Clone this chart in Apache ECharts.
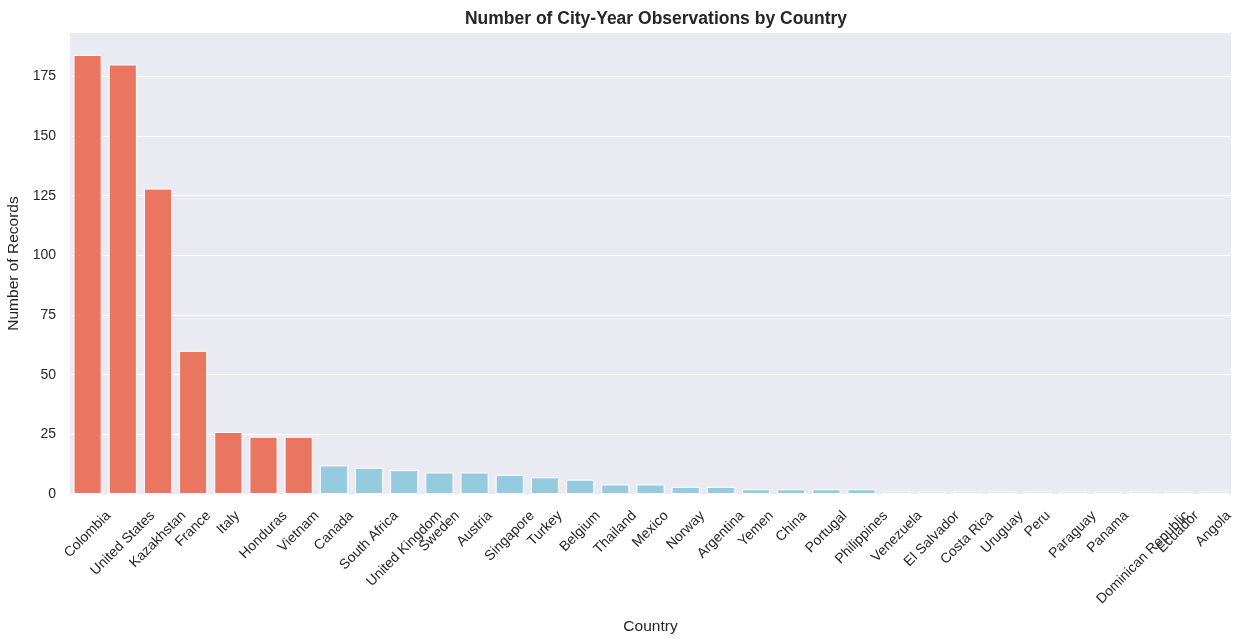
<!DOCTYPE html>
<html>
<head>
<meta charset="utf-8">
<script src="https://cdn.jsdelivr.net/npm/echarts@6/dist/echarts.min.js"></script>
<style>html,body{margin:0;padding:0;background:#fff}#c{width:1246px;height:644px}</style>
</head>
<body>
<div id="c"></div>
<script>
const categories = ['Colombia','United States','Kazakhstan','France','Italy','Honduras','Vietnam','Canada','South Africa','United Kingdom','Sweden','Austria','Singapore','Turkey','Belgium','Thailand','Mexico','Norway','Argentina','Yemen','China','Portugal','Philippines','Venezuela','El Salvador','Costa Rica','Uruguay','Peru','Paraguay','Panama','Dominican Republic','Ecuador','Angola'];
const values = [184,180,128,60,26,24,24,12,11,10,9,9,8,7,6,4,4,3,3,2,2,2,2,1,1,1,1,1,1,1,1,1,1];
const highlighted = [true,true,true,true,true,true,true,false,false,false,false,false,false,false,false,false,false,false,false,false,false,false,false,false,false,false,false,false,false,false,false,false,false];
const yTicks = [0,25,50,75,100,125,150,175];

const FONT = "'Liberation Sans', Arial, sans-serif";
const TICK_SIZE = 14;
const ctx = document.createElement('canvas').getContext('2d');
ctx.font = TICK_SIZE + "px 'Liberation Sans'";
const lineH = TICK_SIZE * 1.12;
const rich = {};
categories.forEach((c, i) => {
  const w = ctx.measureText(c).width;
  const t = 0.5 * (w + lineH);
  rich['l' + i] = { padding: [t, t, 0, 0], fontFamily: FONT, fontSize: TICK_SIZE, color: '#262626', lineHeight: lineH };
});

const chart = echarts.init(document.getElementById('c'), null, { renderer: 'canvas' });
chart.setOption({
  backgroundColor: '#ffffff',
  animation: false,
  textStyle: { fontFamily: FONT },
  title: {
    text: 'Number of City-Year Observations by Country',
    left: 651, top: 5, textAlign: 'center',
    textStyle: { fontFamily: FONT, fontWeight: 'bold', fontSize: 17.5, color: '#262626' }
  },
  grid: { left: 70, right: 15, top: 33, bottom: 150, containLabel: false, outerBoundsMode: 'none',
          show: true, backgroundColor: '#EAEAF2', borderWidth: 0 },
  xAxis: {
    type: 'category',
    data: categories,
    name: 'Country', nameLocation: 'middle', nameGap: 125,
    nameTextStyle: { fontFamily: FONT, fontSize: 15.5, color: '#262626' },
    axisLine: { show: false }, axisTick: { show: false },
    axisLabel: { interval: 0, rotate: 45, align: 'center', verticalAlign: 'middle', margin: 14,
                 fontFamily: FONT, fontSize: TICK_SIZE, color: '#262626', hideOverlap: false,
                 formatter: (v, i) => '{l' + categories.indexOf(v) + '|' + v + '}', rich: rich },
    splitLine: { show: false }
  },
  yAxis: {
    type: 'value', min: 0, max: 193.2, interval: 25,
    name: 'Number of Records', nameLocation: 'middle', nameGap: 47,
    nameTextStyle: { fontFamily: FONT, fontSize: 15.5, color: '#262626' },
    axisLine: { show: false }, axisTick: { show: false },
    axisLabel: { margin: 14, fontFamily: FONT, fontSize: TICK_SIZE, color: '#262626', showMaxLabel: false,
                 formatter: v => yTicks.indexOf(v) >= 0 ? String(v) : '' },
    splitLine: { show: true, showMaxLine: false, lineStyle: { color: '#ffffff', width: 1.2 } }
  },
  series: [{
    type: 'bar',
    barCategoryGap: '20%',
    data: values.map((v, i) => ({
      value: v,
      itemStyle: { color: highlighted[i] ? '#EA7561' : '#96CADE' }
    })),
    itemStyle: { borderColor: '#ffffff', borderWidth: 1 }
  }]
});
</script>
</body>
</html>
